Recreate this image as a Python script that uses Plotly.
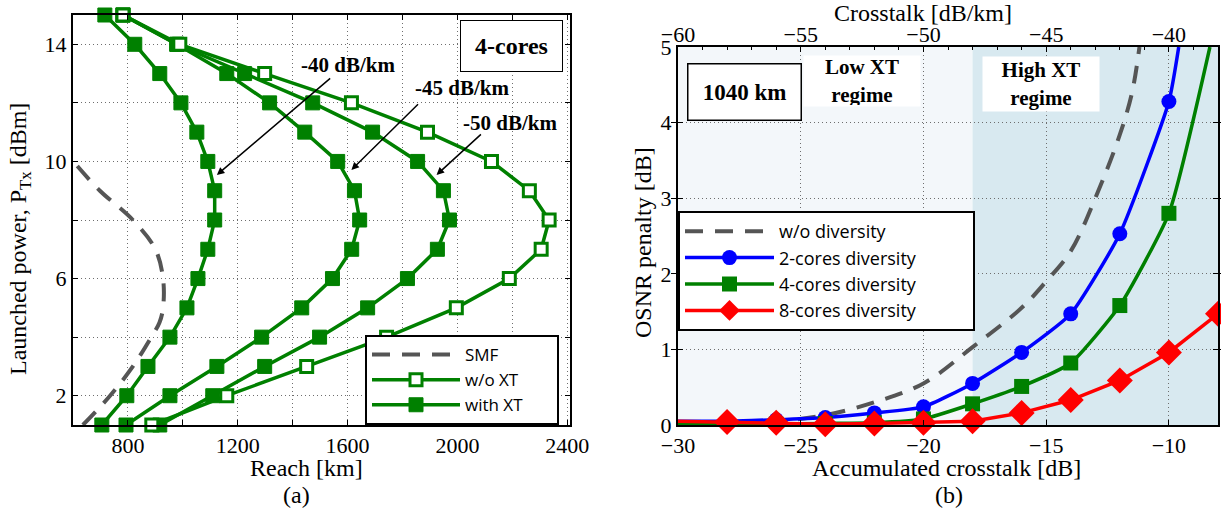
import plotly.graph_objects as go

# ---------------- Panel (a) data ----------------
power_dbm = [1, 2, 3, 4, 5, 6, 7, 8, 9, 10, 11, 12, 13, 14, 15]
reach_xt40 = [705, 796, 873, 953, 1015, 1055, 1091, 1116, 1116, 1091, 1051, 993, 916, 825, 716]
reach_xt45 = [793, 953, 1124, 1287, 1433, 1545, 1615, 1644, 1625, 1564, 1444, 1316, 1160, 978, 782]
reach_xt50 = [916, 1109, 1298, 1498, 1673, 1818, 1927, 1971, 1949, 1855, 1691, 1473, 1225, 978, 782]
reach_noxt = [887, 1160, 1451, 1742, 1996, 2189, 2305, 2334, 2262, 2124, 1891, 1614, 1298, 989, 782]
smf_power = [1.0, 2.0, 3.0, 4.0, 4.5, 5.0, 6.0, 7.0, 8.0, 9.0, 9.85]
smf_reach = [636, 735, 818, 885, 915, 928, 928, 900, 818, 698, 615]

# ---------------- Panel (b) data ----------------
acc_xt_dense = [-30, -28, -26, -24, -22, -20, -18, -16, -15, -14, -13, -12, -11.5, -11.2]
pen_nodiv = [0.02, 0.03, 0.05, 0.13, 0.3, 0.55, 1.03, 1.55, 1.9, 2.3, 3.0, 3.84, 4.4, 5.0]
acc_xt_2 = [-30, -28, -26, -24, -22, -20, -18, -16, -14, -12, -10, -9.6]
pen_2 = [0.05, 0.05, 0.07, 0.1, 0.16, 0.24, 0.55, 0.96, 1.47, 2.53, 4.28, 5.0]
acc_xt_4 = [-30, -28, -26, -24, -22, -20, -18, -16, -14, -12, -10, -8.33]
pen_4 = [0.02, 0.0, 0.01, 0.02, 0.03, 0.08, 0.28, 0.51, 0.82, 1.58, 2.8, 5.0]
acc_xt_8 = [-30, -28, -26, -24, -22, -20, -18, -16, -14, -12, -10, -8]
pen_8 = [0.05, 0.04, 0.03, 0.01, 0.02, 0.03, 0.05, 0.16, 0.33, 0.59, 0.96, 1.47]

x_ticks_a = [600, 800, 1000, 1200, 1400, 1600, 1800, 2000, 2200, 2400]
x_ticktext_a = ["", "800", "", "1200", "", "1600", "", "2000", "", "2400"]
y_ticks_a = [2, 4, 6, 8, 10, 12, 14]
y_ticktext_a = ["2", "", "6", "", "10", "", "14"]
x_ticks_b = [-30, -25, -20, -15, -10]
x_ticks_top = [-60, -55, -50, -45, -40]
y_ticks_b = [0, 1, 2, 3, 4, 5]

GREEN = "rgb(0,128,0)"
BLUE = "rgb(0,0,255)"
RED = "rgb(255,0,0)"
GRAY = "rgb(85,85,85)"
SERIF = "Liberation Serif"
SANS = "Open Sans"
NB = "\u00a0"


def shown(xs, hide_last=True):
    """indices of points that carry a visible marker"""
    end = len(xs) - 1 if hide_last else len(xs)
    return list(range(1, end))


fig = go.Figure()

# ---- panel (a) traces ----
fig.add_trace(go.Scatter(x=smf_reach, y=smf_power, mode="lines", name="SMF" + NB * 12,
                         line=dict(color=GRAY, width=4, dash="18px,12px", shape="spline"),
                         xaxis="x", yaxis="y", legend="legend", legendrank=1, cliponaxis=False))
for i, rv in enumerate([reach_xt40, reach_xt45, reach_xt50]):
    fig.add_trace(go.Scatter(x=rv, y=power_dbm, mode="lines+markers", name="with XT",
                             line=dict(color=GREEN, width=3.5),
                             marker=dict(symbol="square", size=14, color=GREEN,
                                         line=dict(color=GREEN, width=1)),
                             showlegend=(i == 0), legendgroup="xt", cliponaxis=False,
                             xaxis="x", yaxis="y", legend="legend", legendrank=3))
fig.add_trace(go.Scatter(x=reach_noxt, y=power_dbm, mode="lines+markers", name="w/o XT",
                         line=dict(color=GREEN, width=3.5),
                         marker=dict(symbol="square", size=12, color="white",
                                     line=dict(color=GREEN, width=3)),
                         cliponaxis=False,
                         xaxis="x", yaxis="y", legend="legend", legendrank=2))

# ---- panel (b) traces ----
fig.add_trace(go.Scatter(x=x_ticks_top, y=[None] * len(x_ticks_top), mode="lines",
                         showlegend=False, hoverinfo="skip", xaxis="x3", yaxis="y2"))
fig.add_trace(go.Scatter(x=acc_xt_dense, y=pen_nodiv, mode="lines", name="w/o diversity",
                         line=dict(color=GRAY, width=4, dash="18px,12px", shape="spline"),
                         xaxis="x2", yaxis="y2", legend="legend2"))
fig.add_trace(go.Scatter(x=acc_xt_2, y=pen_2, mode="lines+markers", name="2-cores diversity" + NB * 11,
                         line=dict(color=BLUE, width=3.5, shape="spline", smoothing=0.5),
                         marker=dict(symbol="circle", size=15, color=BLUE),
                         selectedpoints=shown(acc_xt_2),
                         selected=dict(marker=dict(opacity=1)),
                         unselected=dict(marker=dict(opacity=0)),
                         xaxis="x2", yaxis="y2", legend="legend2"))
fig.add_trace(go.Scatter(x=acc_xt_4, y=pen_4, mode="lines+markers", name="4-cores diversity",
                         line=dict(color=GREEN, width=3.5, shape="spline", smoothing=0.5),
                         marker=dict(symbol="square", size=15, color=GREEN),
                         selectedpoints=shown(acc_xt_4),
                         selected=dict(marker=dict(opacity=1)),
                         unselected=dict(marker=dict(opacity=0)),
                         xaxis="x2", yaxis="y2", legend="legend2"))
fig.add_trace(go.Scatter(x=acc_xt_8, y=pen_8, mode="lines+markers", name="8-cores diversity",
                         line=dict(color=RED, width=3.5),
                         marker=dict(symbol="diamond", size=20, color=RED),
                         selectedpoints=shown(acc_xt_8, hide_last=False),
                         selected=dict(marker=dict(opacity=1)),
                         unselected=dict(marker=dict(opacity=0)),
                         cliponaxis=False,
                         xaxis="x2", yaxis="y2", legend="legend2"))

W, H = 1221, 512


def px(xp):
    return xp / W


def py(yp):
    return 1 - yp / H


TICKSZ = 22
axis_common = dict(showline=True, linecolor="black", linewidth=2,
                   ticks="inside", ticklen=5, tickcolor="black",
                   showgrid=True, gridcolor="rgb(110,110,110)", griddash="1px,3px", gridwidth=1,
                   zeroline=False, automargin=False,
                   tickfont=dict(family=SERIF, size=TICKSZ, color="black"))

fig.update_layout(
    width=W, height=H,
    margin=dict(l=0, r=0, t=0, b=0, autoexpand=False),
    paper_bgcolor="white", plot_bgcolor="white",
    showlegend=True,
    xaxis=dict(domain=[px(73), px(570)], range=[600, 2410], anchor="y",
               tickvals=x_ticks_a, ticktext=x_ticktext_a, mirror="allticks", **axis_common),
    yaxis=dict(domain=[py(425), py(15)], range=[1, 15], anchor="x",
               tickvals=y_ticks_a, ticktext=y_ticktext_a, mirror="allticks", **axis_common),
    xaxis2=dict(domain=[px(678), px(1218)], range=[-30, -8], anchor="y2",
                tickvals=x_ticks_b, mirror=True, **axis_common),
    yaxis2=dict(domain=[py(425), py(47)], range=[0, 5], anchor="x2",
                tickvals=y_ticks_b, mirror="allticks", **axis_common),
    xaxis3=dict(overlaying="x2", side="top", anchor="y2", range=[-60, -38],
                tickvals=x_ticks_top, ticks="inside", ticklen=5, tickcolor="black",
                showgrid=False, showline=False, zeroline=False, automargin=False,
                minor=dict(ticks="inside", ticklen=3, dtick=1, tickcolor="black"),
                tickfont=dict(family=SERIF, size=TICKSZ, color="black")),
    legend=dict(x=px(559), xanchor="right", y=py(425), yanchor="bottom",
                bgcolor="white", bordercolor="black", borderwidth=2,
                font=dict(family=SANS, size=17, color="black"), itemwidth=88,
                tracegroupgap=0),
    legend2=dict(x=px(678), xanchor="left", y=py(211), yanchor="top",
                 bgcolor="white", bordercolor="black", borderwidth=2,
                 font=dict(family=SANS, size=18, color="black"), itemwidth=89,
                 tracegroupgap=0),
)

# background regimes in panel (b)
fig.add_shape(type="rect", xref="x2", yref="y2", x0=-30, x1=-18, y0=0, y1=5,
              fillcolor="rgb(243,247,250)", line=dict(width=0), layer="below")
fig.add_shape(type="rect", xref="x2", yref="y2", x0=-18, x1=-8, y0=0, y1=5,
              fillcolor="rgb(216,233,240)", line=dict(width=0), layer="below")

ann = []
bold = dict(family=SERIF, size=21, color="black")
# panel (a) labels
for txt, tx, ty, (x0, y0, x1, y1) in [
    ("<b>-40 dB/km</b>", 1600, 13.3, (1542, 12.88, 1124, 9.54)),
    ("<b>-45 dB/km</b>", 2015, 12.5, (1862, 12.0, 1614, 9.71)),
    ("<b>-50 dB/km</b>", 2190, 11.3, (2091, 10.97, 1924, 9.54)),
]:
    ann.append(dict(x=tx, y=ty, xref="x", yref="y", text=txt, showarrow=False, font=bold))
    ann.append(dict(x=x1, y=y1, ax=x0, ay=y0, xref="x", yref="y", axref="x", ayref="y",
                    text="", showarrow=True, arrowhead=2, arrowsize=1, arrowwidth=1.5,
                    arrowcolor="black"))
ann.append(dict(x=2196, y=13.94, xref="x", yref="y", text="<b>4-cores</b>", showarrow=False,
                font=dict(family=SERIF, size=24, color="black"),
                bgcolor="white", bordercolor="black", borderwidth=1,
                width=99, height=48))
# panel (b) labels
ann.append(dict(x=-27.3, y=4.40, xref="x2", yref="y2", text="<b>1040 km</b>", showarrow=False,
                font=dict(family=SERIF, size=23, color="black"),
                bgcolor="white", bordercolor="black", borderwidth=1.5,
                width=110, height=53))
ann.append(dict(x=-22.5, y=4.55, xref="x2", yref="y2", text="<b>Low XT<br>regime</b>",
                showarrow=False, font=dict(family=SERIF, size=21, color="black"),
                bgcolor="white", width=114, height=48))
ann.append(dict(x=-15.2, y=4.51, xref="x2", yref="y2", text="<b>High XT<br>regime</b>",
                showarrow=False, font=dict(family=SERIF, size=21, color="black"),
                bgcolor="white", width=114, height=52))
# axis titles
tfont = dict(family=SERIF, size=24, color="black")
center = dict(xref="paper", yref="paper", showarrow=False, font=tfont,
              xanchor="center", yanchor="middle")
ann += [
    dict(x=px(20), y=py(239), text="Launched power, P<sub>Tx</sub> [dBm]", textangle=-90, **center),
    dict(x=px(306), y=py(468), text="Reach [km]", **center),
    dict(x=px(296), y=py(495), text="(a)", **center),
    dict(x=px(643), y=py(243), text="OSNR penalty [dB]", textangle=-90, **center),
    dict(x=px(946), y=py(468), text="Accumulated crosstalk [dB]", **center),
    dict(x=px(949), y=py(495), text="(b)", **center),
    dict(x=px(923), y=py(13), text="Crosstalk [dB/km]", **center),
]
fig.update_layout(annotations=ann)

fig.write_html("out.html", config={"displayModeBar": False},
               post_script="document.body.style.margin='0px';")
